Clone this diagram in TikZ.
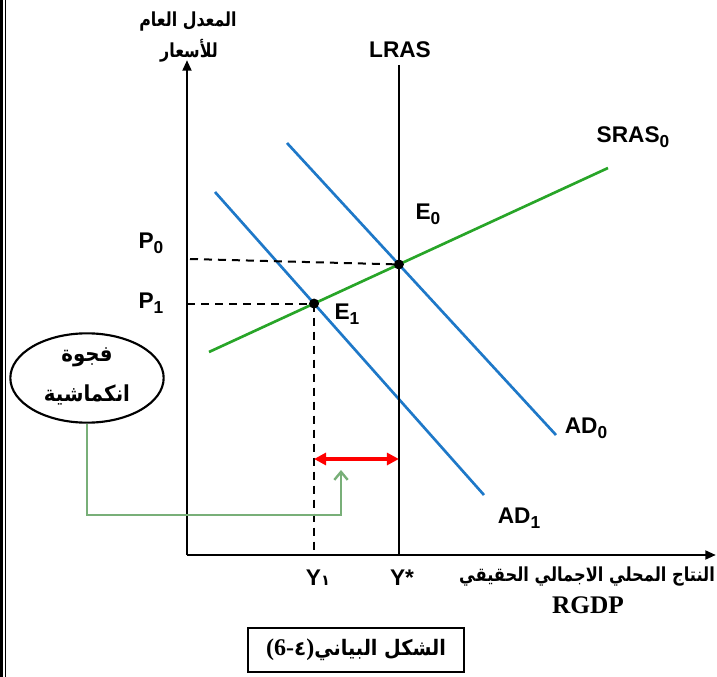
\documentclass[tikz,border=0pt]{standalone}
\usepackage{fontspec}
\setmainfont{Liberation Sans}
\newfontfamily\arabicfont[Script=Arabic]{DejaVu Sans}
\newfontfamily\seriffont{Liberation Serif}
\TeXXeTstate=1
\usetikzlibrary{arrows.meta,intersections,shapes.geometric}
\newcommand\mysub[1]{\raisebox{-0.45ex}{\fontsize{13}{13}\selectfont #1}}
\newcommand\arab[2][0.82]{\scalebox{#1}[1]{\beginR #2\endR}}
\definecolor{adblue}{RGB}{30,120,200}
\definecolor{srasgreen}{RGB}{40,165,40}
\definecolor{gapgreen}{RGB}{120,175,120}
\tikzset{
  lbl/.style={font=\fontsize{17}{17}\selectfont\bfseries, inner sep=0pt},
  arlbl/.style={font=\arabicfont\fontsize{14.5}{14.5}\selectfont\bfseries, inner sep=0pt, align=center},
  axisline/.style={line width=2pt, -{Triangle[length=8pt,width=6.5pt]}},
  dashline/.style={line width=1.5pt, dash pattern=on 6pt off 4.5pt},
  adline/.style={adblue, line width=2pt},
  dot/.style={circle, fill=black, inner sep=0pt, minimum size=7.5pt},
}
\begin{document}
\begin{tikzpicture}[x=0.75pt,y=-0.75pt]
\useasboundingbox (0,0) rectangle (717,677);
% left border
\draw[line width=2pt] (1.3,0) -- (1.3,677);
\draw[line width=0.9pt] (5.5,0) -- (5.5,677);
% axes
\coordinate (O) at (187,555);
\coordinate (Ytop) at (187,60);
\coordinate (Xend) at (716,555);
\draw[axisline] (O) -- (Ytop);
\draw[axisline] (O) -- (Xend);
% curves
\draw[srasgreen, line width=2pt, name path=sras] (209,352) coordinate (s0) -- (608,168) coordinate (s1);
\draw[adline, name path=ad0] (287,143) coordinate (a00) -- (556,435) coordinate (a01);
\draw[adline, name path=ad1] (215,192) coordinate (a10) -- (484,495) coordinate (a11);
\path[name intersections={of=sras and ad0, by=E0}];
\path[name intersections={of=sras and ad1, by=E1}];
% LRAS
\coordinate (Ltop) at (0,65);
\draw[line width=1.7pt] (E0 |- Ltop) -- (E0 |- O);
% dashed lines
\coordinate (P0a) at (190,259);
\draw[dashline] (P0a) -- (E0);
\draw[dashline] (O |- E1) -- (E1);
\draw[dashline] (E1) -- (E1 |- O);
% points
\node[dot] (e0) at (E0) {};
\node[dot] (e1) at (E1) {};
% red gap arrow
\coordinate (gy) at (0,459);
\draw[red, line width=2.4pt, {Triangle[length=9pt,width=9pt]}-{Triangle[length=9pt,width=9pt]}] (E1 |- gy) -- (E0 |- gy);
% ellipse
\node[draw, ellipse, line width=1.6pt, minimum width=115pt, minimum height=67pt, inner sep=0pt] (gap) at (87,378) {};
\node[arlbl, font=\arabicfont\fontsize{16.5}{16.5}\selectfont\bfseries] (gapt1) at (87,357) {\arab[0.9]{فجوة}};
\node[arlbl, font=\arabicfont\fontsize{16.5}{16.5}\selectfont\bfseries] (gapt2) at (87,395) {\arab[0.9]{انكماشية}};
% green pointer
\coordinate (g1) at (87,515);
\coordinate (g2) at (341,515);
\coordinate (g3) at (341,470);
\draw[gapgreen, line width=1.8pt, line join=miter, -{Straight Barb[length=6pt,width=10pt]}] (gap.south) -- (g1) -- (g2) -- (g3);
% labels
\node[lbl] (lras) at (400,50) {LRAS};
\node[lbl] (srasl) at (633,137) {SRAS\mysub{0}};
\node[lbl] (e0l) at (428,214) {E\mysub{0}};
\node[lbl] (e1l) at (347,314) {E\mysub{1}};
\node[lbl] (ad0l) at (586,428) {AD\mysub{0}};
\node[lbl] (ad1l) at (519,518) {AD\mysub{1}};
\node[lbl] (p0l) at (151,243) {P\mysub{0}};
\node[lbl] (p1l) at (151,303) {P\mysub{1}};
\node[lbl] (y1l) at (318,578) {Y{\arabicfont\fontsize{11}{11}\selectfont ١}};
\node[lbl] (ysl) at (402,578) {Y*};
% axis titles
\node[arlbl] (yt1) at (188,22) {\arab{المعدل العام}};
\node[arlbl] (yt2) at (189,51) {\arab{للأسعار}};
\node[arlbl] (xt1) at (587,577) {\arab[0.84]{النتاج المحلي الاجمالي الحقيقي}};
\node[lbl, font=\seriffont\fontsize{19}{19}\selectfont\bfseries] (xt2) at (588,605) {RGDP};
% caption
\node[draw, line width=1.6pt, minimum width=162pt, minimum height=33pt, inner sep=0pt] (capbox) at (356,650) {};
\node[inner sep=0pt] (capt) at (356,650) {{\seriffont\fontsize{18}{18}\selectfont\bfseries (6-}{\arabicfont\fontsize{15}{15}\selectfont\bfseries ٤}{\seriffont\fontsize{18}{18}\selectfont\bfseries )}{\arabicfont\fontsize{16}{16}\selectfont\bfseries\arab[0.9]{الشكل البياني}}};
\end{tikzpicture}
\end{document}
